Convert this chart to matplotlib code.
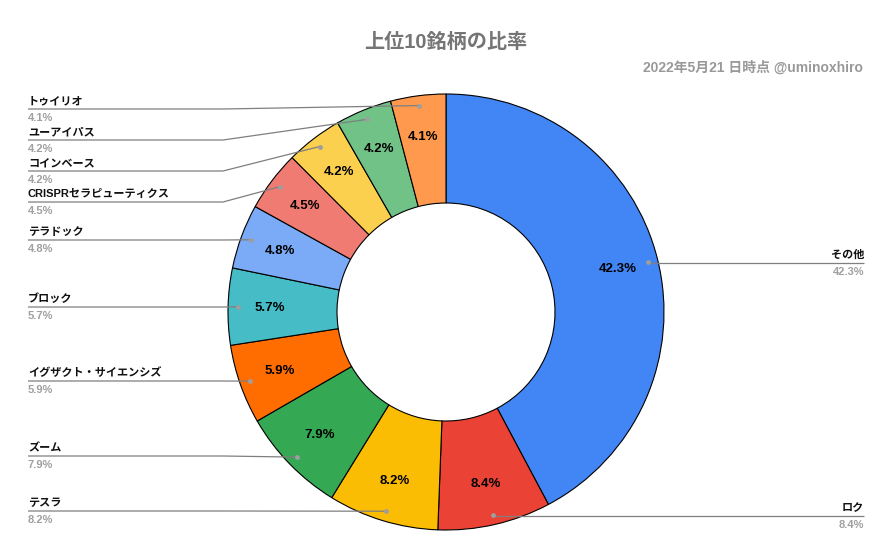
import numpy as np
import matplotlib
matplotlib.use("Agg")
import matplotlib.pyplot as plt

plt.rcParams['font.family'] = ['Liberation Sans', 'Noto Sans CJK JP', 'DejaVu Sans']

# data (clockwise from the top)
names = ["その他", "ロク", "テスラ", "ズーム", "イグザクト・サイエンシズ", "ブロック",
         "テラドック", "CRISPRセラピューティクス", "コインベース", "ユーアイパス", "トゥイリオ"]
shares = [42.3, 8.4, 8.2, 7.9, 5.9, 5.7, 4.8, 4.5, 4.2, 4.2, 4.1]
colors = ["#4285F4", "#EA4335", "#FBBC04", "#34A853", "#FF6D01", "#46BDC6",
          "#7BAAF7", "#F07B72", "#FCD04F", "#71C287", "#FF994D"]

# label layout (pixel rows from the top of the picture)
label_rows = [263, 516, 511, 456, 381, 307, 240, 202, 171, 140, 109]

W, H = 892, 560
fig = plt.figure(figsize=(W / 100, H / 100), dpi=100)
ax = fig.add_axes([0, 0, 1, 1])

cx, cy, R = 446, H - 312, 218
wedges, _ = ax.pie(shares, colors=colors, startangle=90, counterclock=False,
                   center=(cx, cy), radius=R, frame=True,
                   wedgeprops=dict(width=R * 0.5, edgecolor='black', linewidth=0.8))
ax.set_xlim(0, W)
ax.set_ylim(0, H)
ax.set_aspect('equal')
ax.axis('off')

for w, name, val, row in zip(wedges, names, shares, label_rows):
    mid = np.deg2rad((w.theta1 + w.theta2) / 2)
    # value inside the slice
    r_in = R * 0.81
    ax.text(cx + r_in * np.cos(mid), cy + r_in * np.sin(mid), f"{val}%",
            ha='center', va='center', fontsize=9.5, fontweight='bold', color='black')
    # leader line + outside label
    dx, dy = cx + R * 0.955 * np.cos(mid), cy + R * 0.955 * np.sin(mid)
    ly = H - row
    if np.cos(mid) >= 0:
        xs, ys = [dx, 864], [ly, ly]
        tx, ha = 864, 'right'
    else:
        xs, ys = [28, 223, dx], [ly, ly, dy]
        tx, ha = 28, 'left'
    ax.plot(xs, ys, color='#7f7f7f', lw=0.9, solid_capstyle='butt')
    ax.plot(dx, dy, 'o', color='#9e9e9e', ms=3.5, mec='none')
    ax.text(tx, ly + 8, name, ha=ha, va='center', fontsize=8, fontweight='bold', color='#111111')
    ax.text(tx, ly - 9, f"{val}%", ha=ha, va='center', fontsize=8, fontweight='bold', color='#a0a0a0')

ax.text(446, H - 42, "上位10銘柄の比率", ha='center', va='center',
        fontsize=14.5, fontweight='bold', color='#757575')
ax.text(863, H - 68, "2022年5月21 日時点 @uminoxhiro", ha='right', va='center',
        fontsize=10, fontweight='bold', color='#999999')

fig.savefig("out.png", dpi=100)
